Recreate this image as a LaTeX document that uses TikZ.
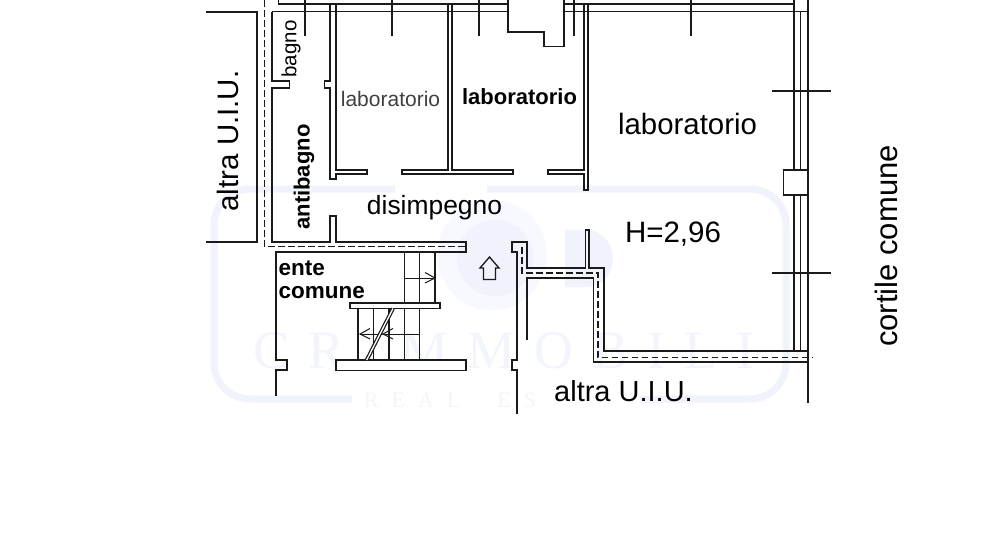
\documentclass[tikz,border=0pt]{standalone}
\usepackage{fontspec}
\setmainfont{Liberation Sans}
\newfontfamily\wmfont{Liberation Serif}
\definecolor{wm}{HTML}{F1F3FC}
\definecolor{wmring}{HTML}{F8F9FE}
\definecolor{wmdisc}{HTML}{F0F2FC}
\definecolor{wmtext}{HTML}{F3F5FC}
\definecolor{wall}{HTML}{1A1A1A}
\tikzset{
  wl/.style={draw=wall,line width=1.6pt,line cap=butt,line join=miter},
  stairl/.style={draw=wall,line width=1.4pt},
  thin wl/.style={draw=wall,line width=1pt},
  dsh/.style={draw=wall,line width=1.8pt,dash pattern=on 6.5pt off 3.5pt},
  lbl/.style={inner sep=0pt,text=black,anchor=center},
  wmk/.style={inner sep=0pt,text=wmtext,anchor=center}
}
\newcommand{\fsz}[1]{\fontsize{#1}{#1}\selectfont}
\begin{document}
\begin{tikzpicture}[x=1pt,y=-1pt]
\useasboundingbox (0,0) rectangle (1000,550);
\fill[white] (0,0) rectangle (1000,550);
% watermark
\draw[wm,line width=7pt,rounded corners=36pt] (352,399) -- (214,399) -- (214,189) -- (395,189);
\draw[wm,line width=7pt,rounded corners=36pt] (487,189) -- (786,189) -- (786,399) -- (640,399);
\fill[wmring] (492,255) circle (55);
\fill[wmdisc] (495,258) circle (38);
\fill[wmdisc] (565,230) -- (585,230) .. controls (622,230) and (622,287) .. (585,287) -- (565,287) -- cycle;
\node[wmk,font=\wmfont\fsz{54}] (wmA) at (504,351) {C\hspace{19pt}R\hspace{19pt}I\hspace{19pt}M\hspace{19pt}M\hspace{19pt}O\hspace{19pt}B\hspace{19pt}I\hspace{19pt}L\hspace{19pt}I};
\node[wmk,font=\wmfont\fsz{22}] (wmB) at (450,400) {R\hspace{13pt}E\hspace{13pt}A\hspace{13pt}L\hspace{37pt}E\hspace{13pt}S};
% left neighbouring unit
\draw[wl] (206,12) -- (257,12) -- (257,241.7) -- (206,241.7);
% dashed boundary
\draw[dsh] (264.5,0) -- (264.5,246.5) -- (466,246.5);
\draw[dsh] (522,247) -- (522,273) -- (598,273) -- (598,357.5) -- (812,357.5);
% top walls
\draw[wl] (278.5,0) -- (278.5,4) -- (507.7,4);
\draw[wl] (272,11.5) -- (507.7,11.5);
\draw[wl] (564,4) -- (794,4);
\draw[wl] (564,11.5) -- (794,11.5);
\draw[wl] (507.7,0) -- (507.7,32) -- (544,32) -- (544,46.5) -- (564,46.5) -- (564,0);
% ceiling stubs
\foreach \x in {305,392,479,574,691} \draw[wl] (\x,0) -- (\x,36);
% bagno / antibagno outer wall
\draw[wl] (272,11.5) -- (272,81) -- (289.5,81) -- (289.5,88) -- (272,88) -- (272,241.7) -- (330,241.7) -- (330,216) -- (336,216) -- (336,241.7) -- (466,241.7) -- (466,252) -- (276,252) -- (276,360) -- (287,360) -- (287,370) -- (276,370) -- (276,396);
% wall between antibagno and lab 1
\draw[wl] (330,4) -- (330,81) -- (324.5,81) -- (324.5,88) -- (330,88) -- (330,179) -- (336,179) -- (336,174) -- (367,174) -- (367,170) -- (336,170) -- (336,4);
% wall between lab 1 and lab 2
\draw[wl] (448,4) -- (448,170) -- (402,170) -- (402,174) -- (513,174) -- (513,170) -- (452,170) -- (452,4);
% wall between lab 2 and big lab
\draw[wl] (584,4) -- (584,170) -- (548,170) -- (548,174) -- (584,174) -- (584,190) -- (588,190) -- (588,4);
% right external wall
\draw[wl] (794,0) -- (794,351);
\draw[wl] (800.5,11.5) -- (800.5,351);
\draw[wl] (794,11.5) -- (808,11.5);
\draw[wl] (808,0) -- (808,403);
\draw[wl] (771.7,91) -- (831,91);
\draw[wl] (771.7,272.7) -- (831,272.7);
\draw[wl,fill=white] (783.5,170) rectangle (808,195);
% lower right wall
\draw[wl] (517,414) -- (517,370) -- (512,370) -- (512,360) -- (517,360) -- (517,252) -- (512,252) -- (512,241.7) -- (527,241.7) -- (527,268) -- (585.5,268) -- (585.5,230) -- (589,230) -- (589,268) -- (604,268) -- (604,351) -- (808,351);
\draw[wl] (527,340) -- (527,278) -- (593.5,278) -- (593.5,362) -- (808,362);
% stairs
\draw[stairl] (404.5,252) -- (404.5,303);
\draw[stairl] (419.5,252) -- (419.5,303);
\draw[stairl] (435,252) -- (435,303);
\draw[thin wl] (404.5,278) -- (435,278);
\draw[thin wl] (425,272.5) -- (435,278) -- (425,283);
\draw[wl,fill=white] (350,303) rectangle (440,308.5);
\foreach \x in {358,373.5,389,404.5,419.5} \draw[stairl] (\x,308.5) -- (\x,360);
\draw[thin wl] (360,334) -- (419.5,334);
\draw[thin wl] (370,328.5) -- (360,334) -- (370,339);
\draw[thin wl] (393,328.5) -- (383,334) -- (393,339);
\draw[wl,fill=white] (336,360) rectangle (466,370.5);
\draw[draw=wall,line width=3.8pt] (366.7,360) -- (393,308.5);
\draw[draw=white,line width=1.3pt] (366.7,360) -- (393,308.5);
% up arrow
\draw[wl,line width=1.3pt] (489.5,257) -- (499,268) -- (495.5,268) -- (495.5,279.5) -- (483.5,279.5) -- (483.5,268) -- (480,268) -- cycle;
% texts
\node[lbl,rotate=90,font=\fsz{29.5}] (altraA) at (228,141) {altra U.I.U.};
\node[lbl,font=\fsz{29}] (altraB) at (623.5,391) {altra U.I.U.};
\node[lbl,rotate=90,font=\fsz{20.5}] (bagno) at (291,49) {bagno};
\node[lbl,rotate=90,font=\bfseries\fsz{22}] (antibagno) at (304,177) {antibagno};
\node[lbl,text=black!75,font=\fsz{21}] (labA) at (390.5,99) {laboratorio};
\node[lbl,font=\bfseries\fsz{22}] (labB) at (519.5,97) {laboratorio};
\node[lbl,font=\fsz{29.4}] (labC) at (687.5,124) {laboratorio};
\node[lbl,font=\fsz{26.4}] (dis) at (434.5,208) {disimpegno};
\node[lbl,font=\fsz{29.5}] (h) at (673,234) {H=2,96};
\node[lbl,anchor=base west,font=\bfseries\fsz{22.5}] (ente) at (278.5,275) {ente};
\node[lbl,anchor=base west,font=\bfseries\fsz{22.5}] (com) at (278.5,298) {comune};
\node[lbl,rotate=90,font=\fsz{31}] (cort) at (886,246) {cortile comune};
\end{tikzpicture}
\end{document}
